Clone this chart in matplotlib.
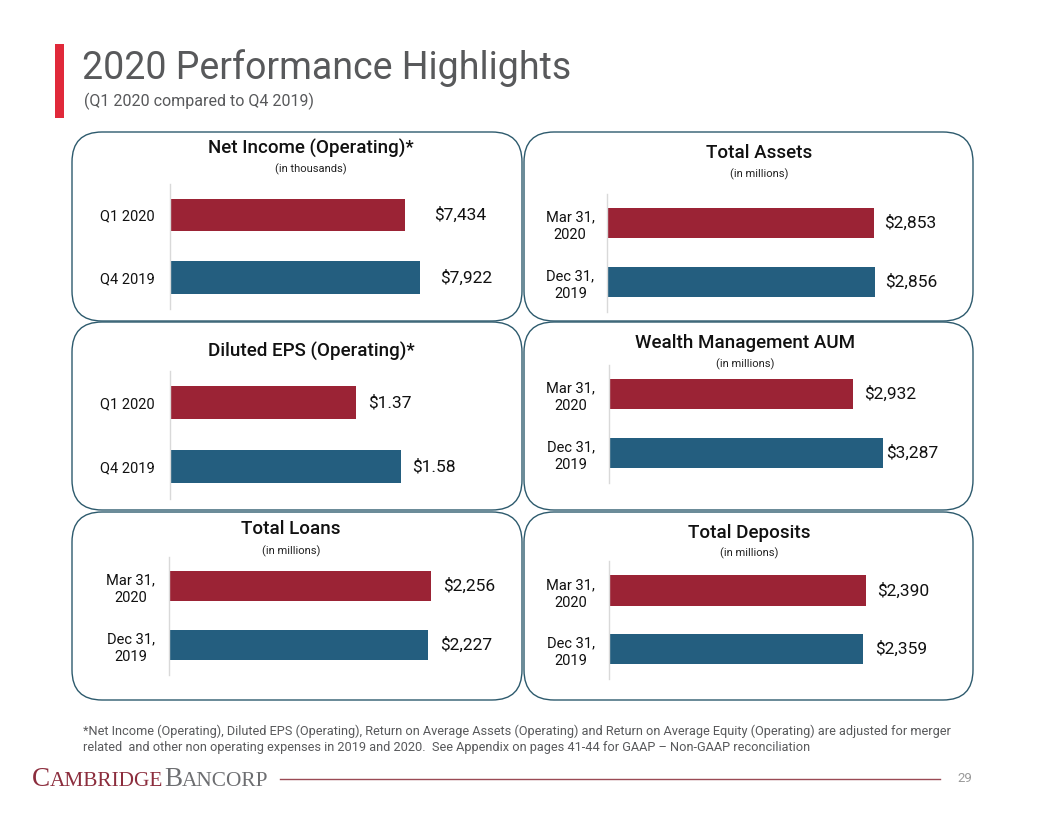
import matplotlib
matplotlib.use('Agg')
import matplotlib.pyplot as plt
from matplotlib.patches import FancyBboxPatch, Rectangle

plt.rcParams['font.family'] = ['Roboto', 'DejaVu Sans']

# data
quarters = ['Q1 2020', 'Q4 2019']
dates = ['Mar 31,\n2020', 'Dec 31,\n2019']
net_income = [7434, 7922]        # in thousands
diluted_eps = [1.37, 1.58]
total_assets = [2853, 2856]      # in millions
wealth_aum = [2932, 3287]
total_loans = [2256, 2227]
total_deposits = [2390, 2359]

RED = '#9b2335'
BLUE = '#245e7f'
BORDER = '#2d5a6d'
GREY = '#58595b'
W, H = 1056, 816

fig = plt.figure(figsize=(W / 100, H / 100), dpi=100)
bg = fig.add_axes([0, 0, 1, 1])
bg.set_xlim(0, W)
bg.set_ylim(H, 0)
bg.axis('off')

# header
bg.add_patch(Rectangle((55, 44), 9, 74, color='#e0293a', lw=0))
bg.text(82, 68, '2020 Performance Highlights', fontsize=27, color=GREY, va='center', ha='left')
bg.text(84, 101, '(Q1 2020 compared to Q4 2019)', fontsize=11.5, color=GREY, va='center', ha='left')

# panels: (title, subtitle, labels, values, fmt, box, title x, title y, sub y, axes px, xlim, gaps, tick pad)
panels = [
    ('Net Income (Operating)*', '(in thousands)', quarters, net_income, '${:,.0f}',
     (72, 132, 522, 321), 311, 148, 169, (170, 183.75, 308.75), (0, 9500), (29, 20), 11),
    ('Total Assets', '(in millions)', dates, total_assets, '${:,.0f}',
     (524, 132, 973, 321), 759, 153, 174, (607, 193.5, 311.5), (0, 3200), (10, 10), 9),
    ('Diluted EPS (Operating)*', None, quarters, diluted_eps, '${:.2f}',
     (72, 322, 522, 510), 311, 351, None, (170, 370.5, 498.5), (0.5, 1.9), (12, 11), 11),
    ('Wealth Management AUM', '(in millions)', dates, wealth_aum, '${:,.0f}',
     (524, 322, 973, 510), 745, 343, 364, (609, 364.5, 482.5), (0, 3600), (11, 3), 10),
    ('Total Loans', '(in millions)', dates, total_loans, '${:,.0f}',
     (72, 512, 522, 700), 291, 529, 551, (169, 556.5, 674.5), (0, 2580), (12, 12), 10),
    ('Total Deposits', '(in millions)', dates, total_deposits, '${:,.0f}',
     (524, 512, 973, 700), 749, 533, 553, (609, 561, 678.5), (0, 2790), (11, 12), 10),
]

for (title, sub, labels, values, fmt, box, tx, ty, sy, apx, xlim, gaps, pad) in panels:
    x0, y0, x1, y1 = box
    bg.add_patch(FancyBboxPatch((x0, y0), x1 - x0, y1 - y0,
                                boxstyle='round,pad=0,rounding_size=30',
                                fc='none', ec=BORDER, lw=1.0))
    bg.text(tx, ty, title, fontsize=13.5, fontweight='medium', color='#111111', ha='center', va='center')
    if sub:
        bg.text(tx, sy, sub, fontsize=8, color='#222222', ha='center', va='center')

    left, top, bottom = apx
    ax = fig.add_axes([left / W, 1 - bottom / H, 300 / W, (bottom - top) / H])
    ax.set_facecolor('none')
    ax.barh([0, 1], values, height=0.52, color=[RED, BLUE], left=0)
    ax.set_xlim(*xlim)
    ax.set_ylim(1.5, -0.5)
    ax.set_yticks([0, 1])
    ax.set_yticklabels(labels, fontsize=10.5, color='#111111', multialignment='center', linespacing=1.35)
    ax.tick_params(axis='y', length=0, pad=pad)
    ax.set_xticks([])
    for s in ['top', 'right', 'bottom']:
        ax.spines[s].set_visible(False)
    ax.spines['left'].set_color('#d9d9d9')
    ax.spines['left'].set_linewidth(1)
    for i, v in enumerate(values):
        ax.annotate(fmt.format(v), xy=(v, i), xytext=(gaps[i] * 0.72, 0), textcoords='offset points',
                    fontsize=12.5, color='#111111', va='center', ha='left', annotation_clip=False)

# footnote
bg.text(83, 731, '*Net Income (Operating), Diluted EPS (Operating), Return on Average Assets (Operating) and Return on '
        'Average Equity (Operating) are adjusted for merger', fontsize=9.2, color=GREY, va='center', ha='left')
bg.text(83, 747, 'related  and other non operating expenses in 2019 and 2020.  See Appendix on pages 41-44 for '
        'GAAP \u2013 Non-GAAP reconciliation', fontsize=9.2, color=GREY, va='center', ha='left')

# logo, small caps built from pieces
fig.canvas.draw()
r = fig.canvas.get_renderer()
x = 32
for word, col in [('CAMBRIDGE', '#8c2d3d'), ('BANCORP', '#6d6e71')]:
    for part, fs in [(word[0], 19.5), (word[1:], 15.3)]:
        t = bg.text(x, 786, part, fontsize=fs, color=col, family='Liberation Serif', ha='left', va='baseline')
        bb = t.get_window_extent(renderer=r)
        x += bb.width
    x += 0.5
bg.plot([280, 940], [779, 779], color='#9a4a55', lw=1)
bg.text(972, 779, '29', fontsize=9.5, color='#9a9a9a', ha='right', va='center')

plt.savefig('out.png', dpi=100)
